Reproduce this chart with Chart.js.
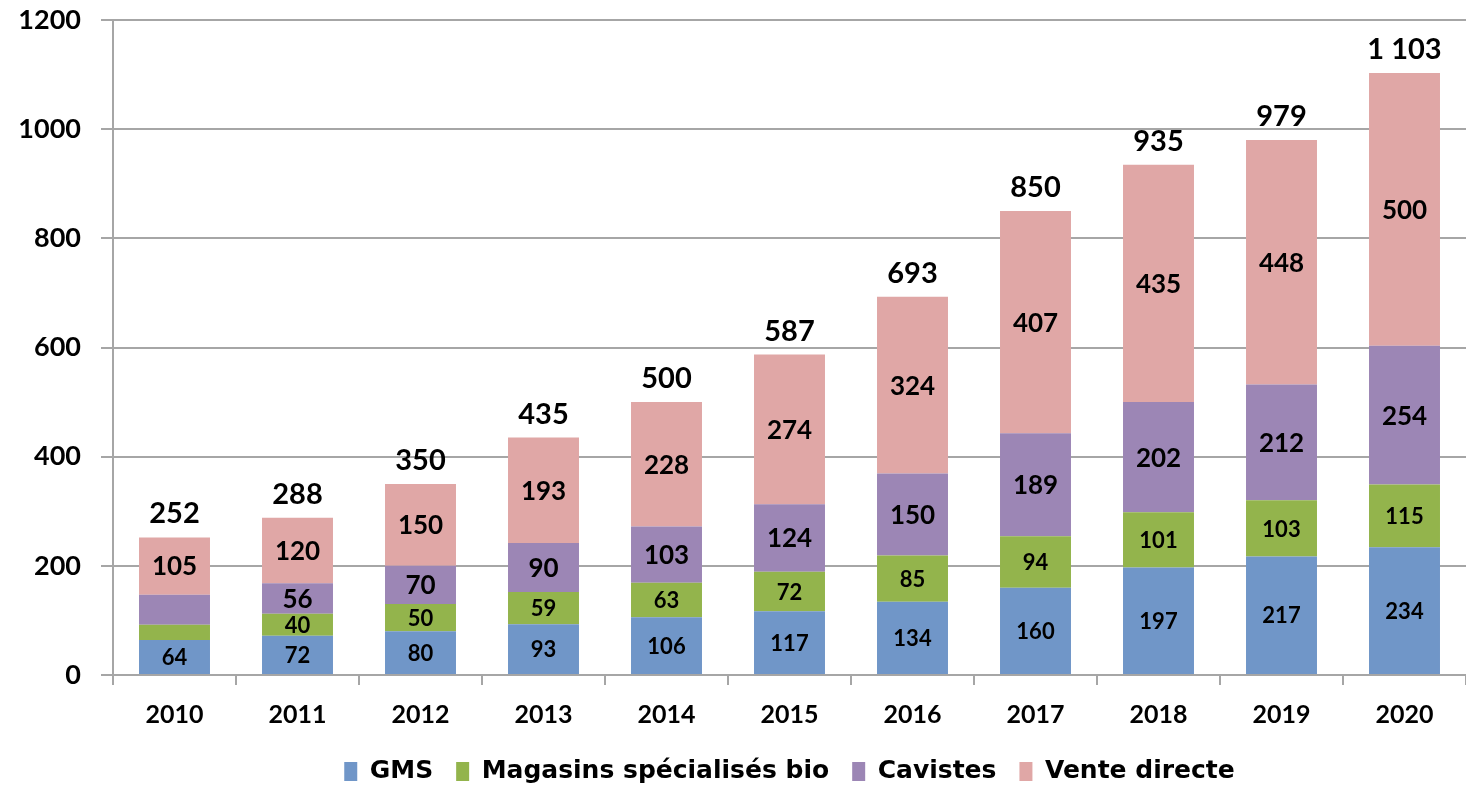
<!DOCTYPE html>
<html>
<head>
<meta charset="utf-8">
<script src="https://cdn.jsdelivr.net/npm/chart.js@4/dist/chart.umd.min.js"></script>
<style>
  html, body { margin: 0; padding: 0; background: #fff; }
  #chart { display: block; }
</style>
</head>
<body>
<canvas id="chart" width="1466" height="786"></canvas>
<script>
const years = ['2010', '2011', '2012', '2013', '2014', '2015', '2016', '2017', '2018', '2019', '2020'];
const gms = [64, 72, 80, 93, 106, 117, 134, 160, 197, 217, 234];
const magasinsBio = [28, 40, 50, 59, 63, 72, 85, 94, 101, 103, 115];
const cavistes = [55, 56, 70, 90, 103, 124, 150, 189, 202, 212, 254];
const venteDirecte = [105, 120, 150, 193, 228, 274, 324, 407, 435, 448, 500];
const totals = [252, 288, 350, 435, 500, 587, 693, 850, 935, 979, 1103];

const FONT = 'Lato, "Open Sans", sans-serif';
const LEGEND_FONT = '"DejaVu Sans", sans-serif';
const GRID = '#a6a6a6';

// thousands with a space, like "1 103"
const formatTotal = v => String(v).replace(/\B(?=(\d{3})+(?!\d))/g, ' ');

const barLabels = {
    id: 'barLabels',
    afterDatasetsDraw(chart) {
        const ctx = chart.ctx;
        ctx.save();
        ctx.fillStyle = '#000';
        ctx.textAlign = 'center';
        ctx.textBaseline = 'middle';
        chart.data.datasets.forEach((ds, i) => {
            const meta = chart.getDatasetMeta(i);
            ctx.font = 'bold ' + ds.labelSize + 'px ' + FONT;
            meta.data.forEach((bar, j) => {
                if (ds.hideLabelAt && ds.hideLabelAt.includes(j)) return;
                ctx.fillText(ds.data[j], bar.x, (bar.y + bar.base) / 2 + 1);
            });
        });
        // totals above the stack
        const last = chart.getDatasetMeta(chart.data.datasets.length - 1);
        ctx.font = 'bold 29px ' + FONT;
        ctx.textBaseline = 'alphabetic';
        last.data.forEach((bar, j) => {
            ctx.fillText(formatTotal(totals[j]), bar.x, bar.y - 14);
        });
        ctx.restore();
    }
};

new Chart(document.getElementById('chart').getContext('2d'), {
    type: 'bar',
    data: {
        labels: years,
        datasets: [
            { label: 'GMS', data: gms, backgroundColor: '#7096c8', labelSize: 22 },
            { label: 'Magasins spécialisés bio', data: magasinsBio, backgroundColor: '#93b44c', labelSize: 22, hideLabelAt: [0] },
            { label: 'Cavistes', data: cavistes, backgroundColor: '#9c86b5', labelSize: 26, hideLabelAt: [0] },
            { label: 'Vente directe', data: venteDirecte, backgroundColor: '#e0a7a6', labelSize: 26 },
        ],
    },
    options: {
        responsive: false,
        devicePixelRatio: 1,
        animation: false,
        categoryPercentage: 1,
        barPercentage: 0.577,
        layout: { padding: { top: 0, right: 0, bottom: -8, left: 0 } },
        scales: {
            x: {
                stacked: true,
                grid: {
                    offset: true,
                    drawOnChartArea: false,
                    tickLength: 10,
                    color: GRID,
                    lineWidth: 2,
                },
                border: { color: GRID, width: 2 },
                ticks: {
                    color: '#000',
                    padding: 15,
                    font: { family: FONT, size: 25, weight: 'bold' },
                },
                afterFit: scale => { scale.height = 61; },
            },
            y: {
                stacked: true,
                min: 0,
                max: 1200,
                grid: { color: GRID, lineWidth: 2, tickLength: 12 },
                border: { color: GRID, width: 2 },
                ticks: {
                    stepSize: 200,
                    color: '#000',
                    padding: 20,
                    font: { family: FONT, size: 27, weight: 'bold', lineHeight: 0 },
                    callback: v => String(v),
                },
                afterFit: scale => { scale.width = 113; },
            },
        },
        plugins: {
            legend: {
                position: 'bottom',
                fullSize: false,
                labels: {
                    color: '#000',
                    boxWidth: 13,
                    boxHeight: 19,
                    padding: 23,
                    font: { family: LEGEND_FONT, size: 25, weight: 'bold' },
                },
            },
            tooltip: { enabled: false },
        },
    },
    plugins: [barLabels],
});
</script>
</body>
</html>
